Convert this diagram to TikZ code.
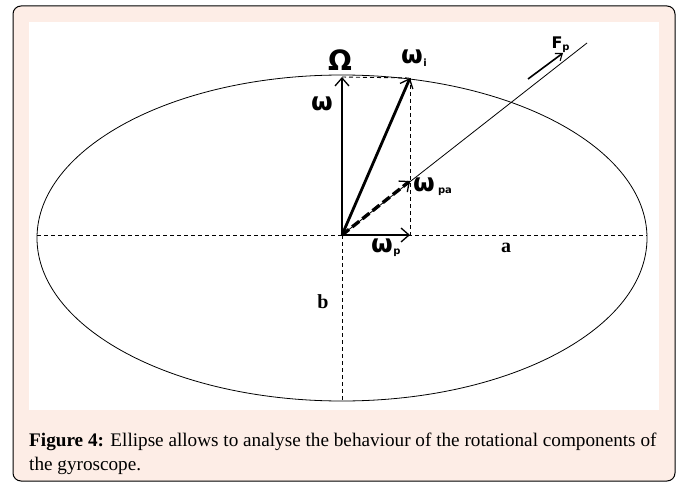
\documentclass[tikz,border=0pt]{standalone}
\usepackage{fontspec}
\setmainfont{Liberation Serif}
\newfontfamily\lblfont{DejaVu Sans}
\usetikzlibrary{arrows.meta}
\definecolor{capbg}{RGB}{253,237,230}
\tikzset{
  thinline/.style={line width=0.8pt},
  dashline/.style={line width=0.9pt, dash pattern=on 4pt off 3pt},
  vec/.style={line width=2.8pt, -{Straight Barb[length=8pt,width=14pt,line width=1.3pt]}},
  lbl/.style={font=\lblfont\bfseries\fontsize{25}{25}\selectfont, inner sep=0pt},
  sublbl/.style={font=\lblfont\bfseries\fontsize{10}{10}\selectfont, inner sep=0pt},
  serlbl/.style={font=\bfseries\fontsize{20}{20}\selectfont, inner sep=0pt},
}
\begin{document}
\begin{tikzpicture}[x=1pt,y=-1pt]
\useasboundingbox (0,0) rectangle (680,484);
% frame
\draw[line width=1pt, fill=capbg, rounded corners=8pt] (13,6) rectangle (675,481);
\fill[white] (29,22) rectangle (659,410);
% ellipse
\coordinate (O) at (342,235);
\draw[thinline] (342,238) ellipse [x radius=305, y radius=163];
\coordinate (L) at (37,235);
\coordinate (R) at (647,235);
\coordinate (B) at (342,401);
\draw[dashline] (L) -- (R);
\draw[dashline] (O) -- (B);
% points
\coordinate (W) at (342,77);
\coordinate (Wi) at (410,78);
\coordinate (Wpa) at (410,181);
\coordinate (Wp) at (410,235);
\coordinate (Fend) at (587,43);
\coordinate (Fa) at (528,79);
\coordinate (Fb) at (563,53);
% thin line through omega_pa
\draw[thinline] (O) -- (Fend);
% dashed projections
\draw[dashline] (W) -- (Wi);
\draw[dashline] (Wi) -- (Wp);
% vectors
\draw[vec] (O) -- (W);
\draw[vec] (O) -- (Wi);
\draw[vec] (O) -- (Wp);
\draw[vec, line width=3.4pt, dash pattern=on 9pt off 4pt] (O) -- (Wpa);
\draw[line width=1.6pt, -{Straight Barb[length=6pt,width=9pt,line width=1.1pt]}] (Fa) -- (Fb);
% labels
\node[lbl, font=\lblfont\bfseries\fontsize{28}{28}\selectfont] (lOm) at (340,60) {Ω};
\node[lbl] (lw) at (322,104) {ω};
\node[lbl] (lwi) at (412,57) {ω};
\node[sublbl] (lwis) at (425,63) {i};
\node[lbl] (lwpa) at (424,185) {ω};
\node[sublbl] (lwpas) at (445,192) {pa};
\node[lbl] (lwp) at (382,246) {ω};
\node[sublbl] (lwps) at (397,253) {p};
\node[font=\lblfont\bfseries\fontsize{16}{16}\selectfont, inner sep=0pt] (lF) at (557,43) {F};
\node[sublbl] (lFs) at (566,49) {p};
\node[serlbl] (la) at (506,248) {a};
\node[serlbl] (lb) at (323,302) {b};
% caption
\node[anchor=base west, inner sep=0pt, font=\fontsize{19.2}{24}\selectfont] (cap1) at (29,446) {\textbf{Figure 4:} Ellipse allows to analyse the behaviour of the rotational components of};
\node[anchor=base west, inner sep=0pt, font=\fontsize{19.2}{24}\selectfont] (cap2) at (29,470) {the gyroscope.};
\end{tikzpicture}
\end{document}
